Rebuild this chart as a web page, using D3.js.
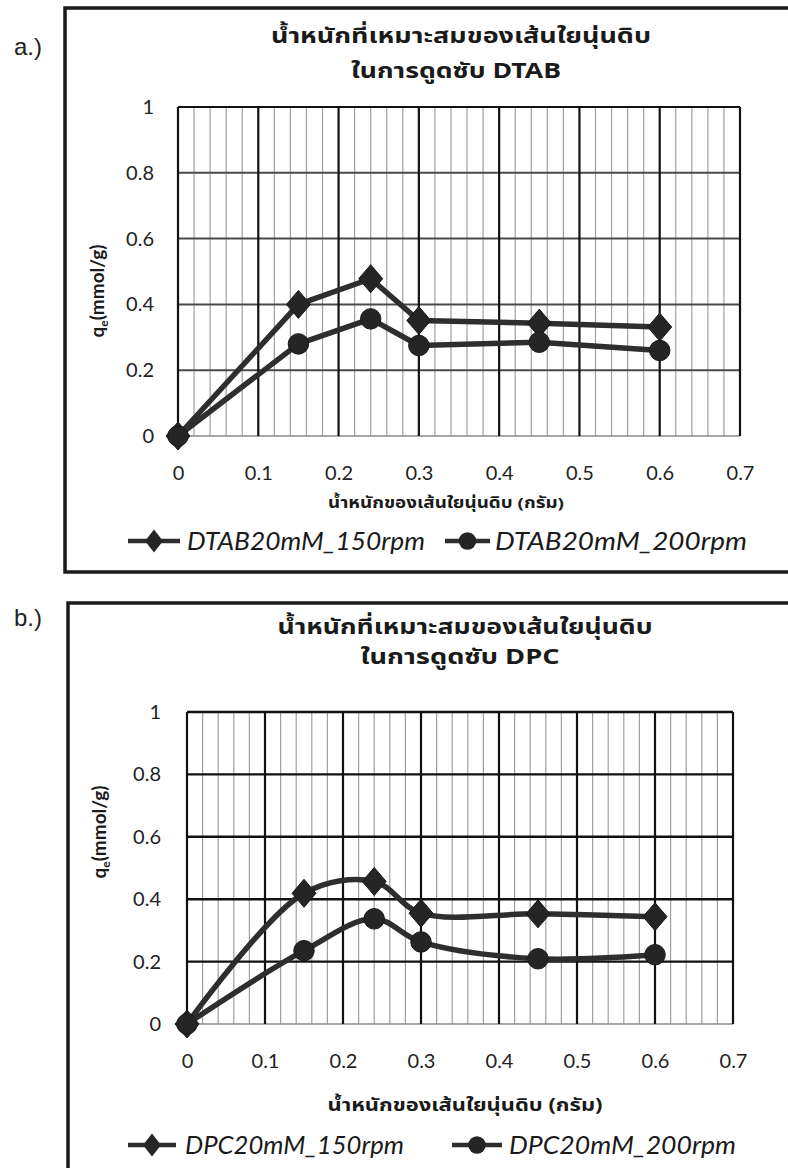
<!DOCTYPE html>
<html><head><meta charset="utf-8">
<script src="https://cdn.jsdelivr.net/npm/d3@7"></script>
<style>
html,body{margin:0;padding:0;background:#fff;}
svg{display:block;}
</style></head>
<body>
<script>
// ---------- DATA ----------
const fiberWeights = [0, 0.15, 0.24, 0.3, 0.45, 0.6];
const dtab150 = [0, 0.40, 0.478, 0.351, 0.343, 0.331];
const dtab200 = [0, 0.28, 0.356, 0.275, 0.285, 0.26];
const dpc150  = [0, 0.419, 0.457, 0.355, 0.353, 0.344];
const dpc200  = [0, 0.235, 0.337, 0.263, 0.209, 0.222];
const xTickValues = [0, 0.1, 0.2, 0.3, 0.4, 0.5, 0.6, 0.7];
const yTickValues = [0, 0.2, 0.4, 0.6, 0.8, 1];
const panelLabels = ["a.)", "b.)"];
const titleLine1 = "น้ำหนักที่เหมาะสมของเส้นใยนุ่นดิบ";
const titleLine2 = ["ในการดูดซับ DTAB", "ในการดูดซับ DPC"];
const xAxisTitle = "น้ำหนักของเส้นใยนุ่นดิบ (กรัม)";
const legendDTAB = ["DTAB20mM_150rpm", "DTAB20mM_200rpm"];
const legendDPC  = ["DPC20mM_150rpm", "DPC20mM_200rpm"];

// ---------- DRAW ----------
const W = 788, H = 1168;
const svg = d3.select("body").append("svg").attr("width", W).attr("height", H);
svg.append("rect").attr("width", W).attr("height", H).attr("fill", "#fff");

const thaiFont = "'Noto Sans Thai','Noto Sans Thai UI','Tlwg Typo','Loma','Garuda','Kinnari','Norasi','DejaVu Sans',sans-serif";
const latinFont = "Lato,'Open Sans','Liberation Sans',sans-serif";
const ink = "#2e2e2e";

function diamondPath(w, h) { return `M0,${-h}L${w},0L0,${h}L${-w},0Z`; }

function drawPanel(cfg) {
  const g = svg.append("g");
  // frame
  g.append("path")
    .attr("d", `M${cfg.box.x1},${cfg.box.top}H${cfg.box.left}V${cfg.box.bottom}H${cfg.box.x1}`)
    .attr("fill", "none").attr("stroke", "#1a1a1a").attr("stroke-width", 3.5);
  g.append("text").text(cfg.panel).attr("x", 14).attr("y", cfg.panelY)
    .attr("font-family", "'Liberation Sans',Arial,sans-serif").attr("font-size", 24).attr("fill", "#222");

  const x = d3.scaleLinear().domain([0, 0.7]).range([cfg.plot.x0, cfg.plot.x1]);
  const y = d3.scaleLinear().domain([0, 1]).range([cfg.plot.yb, cfg.plot.yt]);

  // minor vertical grid
  const minor = d3.range(0, 36).map(i => i * 0.02).filter(v => Math.abs(v * 10 - Math.round(v * 10)) > 1e-6 && v < 0.7);
  g.append("g").selectAll("line").data(minor).join("line")
    .attr("x1", d => x(d)).attr("x2", d => x(d))
    .attr("y1", y(0)).attr("y2", y(1))
    .attr("stroke", "#a0a0a0").attr("stroke-width", 1.2);
  // horizontal grid
  g.append("g").selectAll("line").data(yTickValues).join("line")
    .attr("x1", x(0)).attr("x2", x(0.7))
    .attr("y1", d => y(d)).attr("y2", d => y(d))
    .attr("stroke", d => d === 0 ? "#8a8a8a" : cfg.hColor)
    .attr("stroke-width", d => d === 0 ? 1.3 : cfg.hWidth);
  // major vertical grid
  g.append("g").selectAll("line").data(xTickValues).join("line")
    .attr("x1", d => x(d)).attr("x2", d => x(d))
    .attr("y1", y(0)).attr("y2", y(1))
    .attr("stroke", "#111").attr("stroke-width", 2.2);
  g.append("line").attr("x1", x(0)).attr("x2", x(0.7)).attr("y1", y(1)).attr("y2", y(1))
    .attr("stroke", "#111").attr("stroke-width", 2.2);

  // axes (labels only)
  const ya = g.append("g").attr("transform", `translate(${x(0)},0)`)
    .call(d3.axisLeft(y).tickValues(yTickValues).tickSize(0).tickPadding(cfg.yPad).tickFormat(d3.format("~g")));
  ya.select(".domain").remove();
  ya.selectAll("text").attr("font-family", latinFont).attr("font-size", 20).attr("fill", "#222");
  const xa = g.append("g").attr("transform", `translate(0,${y(0)})`)
    .call(d3.axisBottom(x).tickValues(xTickValues).tickSize(0).tickPadding(cfg.xPad).tickFormat(d3.format("~g")));
  xa.select(".domain").remove();
  xa.selectAll("text").attr("font-family", latinFont).attr("font-size", 20).attr("fill", "#222");

  // titles
  g.append("text").text(titleLine1).attr("x", cfg.t1x).attr("y", cfg.t1y).attr("text-anchor", "middle")
    .attr("font-family", thaiFont).attr("font-weight", "bold").attr("font-size", 21).attr("fill", "#1a1a1a")
    .attr("textLength", cfg.t1w).attr("lengthAdjust", "spacingAndGlyphs");
  g.append("text").text(cfg.title2).attr("x", cfg.t2x).attr("y", cfg.t2y).attr("text-anchor", "middle")
    .attr("font-family", thaiFont).attr("font-weight", "bold").attr("font-size", 21).attr("fill", "#1a1a1a")
    .attr("textLength", cfg.t2w).attr("lengthAdjust", "spacingAndGlyphs");
  g.append("text").text(xAxisTitle).attr("x", cfg.axx).attr("y", cfg.axy).attr("text-anchor", "middle")
    .attr("font-family", thaiFont).attr("font-weight", "bold").attr("font-size", cfg.axfs).attr("fill", "#1a1a1a")
    .attr("textLength", cfg.axw).attr("lengthAdjust", "spacingAndGlyphs");
  const yt = g.append("text").attr("transform", `translate(${cfg.ytx},${cfg.yty}) rotate(-90)`)
    .attr("text-anchor", "middle").attr("font-family", latinFont).attr("font-weight", "bold")
    .attr("font-size", 19).attr("fill", "#1a1a1a");
  yt.append("tspan").text("q");
  yt.append("tspan").text("e").attr("font-size", 12).attr("dy", 4);
  yt.append("tspan").text("(mmol/g)").attr("dy", -4);

  // series
  const line = d3.line().x(d => x(d[0])).y(d => y(d[1])).curve(cfg.curve);
  cfg.series.forEach(s => {
    const pts = fiberWeights.map((w, i) => [w, s.values[i]]);
    g.append("path").datum(pts).attr("d", line).attr("fill", "none")
      .attr("stroke", ink).attr("stroke-width", 5.5).attr("stroke-linejoin", "round");
  });
  cfg.series.forEach(s => {
    const pts = fiberWeights.map((w, i) => [w, s.values[i]]);
    g.append("g").selectAll("path").data(pts).join("path")
      .attr("transform", d => `translate(${x(d[0])},${y(d[1])})`)
      .attr("d", s.shape === "diamond" ? diamondPath(12, 14) : d3.symbol(d3.symbolCircle, 330)())
      .attr("fill", "#252525").attr("stroke", "#1a1a1a").attr("stroke-width", 1);
  });

  // legend
  cfg.legend.forEach((L, i) => {
    const lg = g.append("g");
    lg.append("line").attr("x1", L.lx0).attr("x2", L.lx1).attr("y1", cfg.legY).attr("y2", cfg.legY)
      .attr("stroke", ink).attr("stroke-width", 4.5);
    lg.append("path").attr("transform", `translate(${(L.lx0 + L.lx1) / 2},${cfg.legY})`)
      .attr("d", cfg.series[i].shape === "diamond" ? diamondPath(9, 11.5) : d3.symbol(d3.symbolCircle, 240)())
      .attr("fill", "#252525");
    lg.append("text").text(L.label).attr("x", L.tx).attr("y", cfg.legY + 9)
      .attr("font-family", latinFont).attr("font-style", "italic").attr("font-size", 26).attr("fill", "#1a1a1a")
      .attr("textLength", L.tw).attr("lengthAdjust", "spacingAndGlyphs");
  });
}

drawPanel({
  panel: panelLabels[0], panelY: 55,
  box: { left: 65, top: 8, bottom: 572, x1: 800 },
  plot: { x0: 178, x1: 740, yt: 107, yb: 436 },
  hColor: "#4a4a4a", hWidth: 2,
  yPad: 24, xPad: 30,
  title2: titleLine2[0],
  t1x: 461, t1y: 43, t1w: 380, t2x: 456, t2y: 78, t2w: 210,
  axx: 446, axy: 508, axw: 236, axfs: 15,
  ytx: 104, yty: 291,
  curve: d3.curveLinear,
  series: [{ values: dtab150, shape: "diamond" }, { values: dtab200, shape: "circle" }],
  legY: 541,
  legend: [
    { label: legendDTAB[0], lx0: 128, lx1: 180, tx: 187, tw: 238 },
    { label: legendDTAB[1], lx0: 445, lx1: 490, tx: 495, tw: 252 }
  ]
});

drawPanel({
  panel: panelLabels[1], panelY: 626,
  box: { left: 68, top: 603, bottom: 1200, x1: 800 },
  plot: { x0: 187, x1: 733, yt: 712, yb: 1024 },
  hColor: "#111", hWidth: 2.4,
  yPad: 26, xPad: 30,
  title2: titleLine2[1],
  t1x: 465, t1y: 634, t1w: 375, t2x: 460, t2y: 664, t2w: 199,
  axx: 465, axy: 1111, axw: 275, axfs: 17,
  ytx: 106, yty: 832,
  curve: d3.curveCatmullRom.alpha(0.5),
  series: [{ values: dpc150, shape: "diamond" }, { values: dpc200, shape: "circle" }],
  legY: 1145,
  legend: [
    { label: legendDPC[0], lx0: 128, lx1: 176, tx: 185, tw: 219 },
    { label: legendDPC[1], lx0: 452, lx1: 502, tx: 509, tw: 227 }
  ]
});
</script>
</body></html>
